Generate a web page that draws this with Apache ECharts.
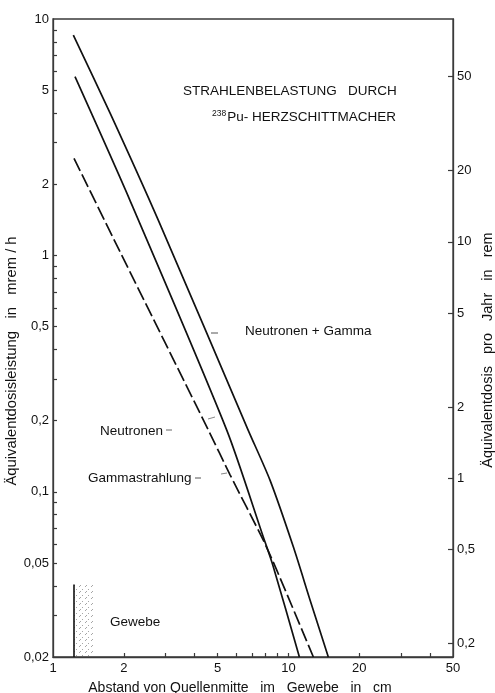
<!DOCTYPE html>
<html>
<head>
<meta charset="utf-8">
<script src="https://cdn.jsdelivr.net/npm/echarts@6/dist/echarts.min.js"></script>
<style>
  html, body { margin: 0; padding: 0; background: #fff; }
  #chart { width: 495px; height: 693px; }
</style>
</head>
<body>
<div id="chart"></div>
<script>
// Distance from source centre (cm) and equivalent dose rate (mrem/h)
const distTotal   = [1.22, 1.75, 2.80, 6.75, 8.35, 10.49, 12.36, 14.77];
const doseTotal   = [8.55, 3.99, 1.41, 0.182, 0.112, 0.0585, 0.0348, 0.02];

const distNeutron = [1.24, 2.12, 5.47, 7.82, 8.63, 11.13];
const doseNeutron = [5.70, 1.714, 0.1823, 0.0644, 0.0481, 0.02];

const distGamma   = [1.228, 1.926, 4.57, 5.65, 7.82, 8.92, 12.76];
const doseGamma   = [2.573, 1.036, 0.1823, 0.118, 0.0624, 0.0466, 0.02];

// Tissue marker (Gewebe)
const tissueX     = [1.228, 1.48];
const tissueY     = [0.02, 0.0405];

// Axis ticks and labels
const xLabels     = [1, 2, 5, 10, 20, 50];
const xTicks      = [2, 3, 4, 5, 6, 7, 8, 9, 10, 20, 30, 40];
const yLabels     = [0.02, 0.05, 0.1, 0.2, 0.5, 1, 2, 5, 10];
const yTicks      = [0.03, 0.04, 0.05, 0.06, 0.07, 0.08, 0.09, 0.1, 0.2, 0.3, 0.4, 0.5,
                     0.6, 0.7, 0.8, 0.9, 1, 2, 3, 4, 5, 6, 7, 8, 9];
const remLabels   = [0.2, 0.5, 1, 2, 5, 10, 20, 50];
const remPerMremH = 8.76;            // 8760 h per year, mrem -> rem
const yMin = 0.02, yMax = 10;

const pair = (xs, ys) => xs.map((x, i) => [x, ys[i]]);
const fmt = v => String(+v.toPrecision(6)).replace('.', ',');

// dotted fill for the tissue region
const hatch = document.createElement('canvas');
hatch.width = 6; hatch.height = 6;
(function () {
  const g = hatch.getContext('2d');
  g.fillStyle = 'rgba(0,0,0,0.35)';
  g.fillRect(1, 4, 1, 1);
  g.fillRect(4, 1, 1, 1);
  g.fillRect(2, 3, 1, 1);
})();

const FONT = 'Liberation Sans';
const AXIS_COLOR = '#3a3a3a';
const LINE_COLOR = '#111';
const TXT = { fontFamily: FONT, fill: '#111' };
const SMOOTH = 0.25;

const chart = echarts.init(document.getElementById('chart'), null, { renderer: 'canvas' });

const option = {
  backgroundColor: '#fff',
  animation: false,
  textStyle: { fontFamily: FONT, color: '#111' },
  grid: {
    left: 53, right: 42, top: 19, bottom: 36,
    outerBoundsMode: 'none', containLabel: false,
    show: true, borderColor: AXIS_COLOR, borderWidth: 1.3, backgroundColor: 'transparent'
  },
  xAxis: {
    type: 'log', logBase: 10, min: 1, max: 50,
    axisLine: { show: true, lineStyle: { color: AXIS_COLOR, width: 1.3 } },
    axisTick: { show: true, inside: true, length: 4, customValues: xTicks,
                lineStyle: { color: AXIS_COLOR, width: 1.2 } },
    axisLabel: { customValues: xLabels, formatter: fmt, fontSize: 13, color: '#111',
                 margin: 5, fontFamily: FONT },
    splitLine: { show: false }, minorTick: { show: false }
  },
  yAxis: [
    {
      type: 'log', logBase: 10, min: yMin, max: yMax,
      axisLine: { show: true, lineStyle: { color: AXIS_COLOR, width: 1.3 } },
      axisTick: { show: true, inside: true, length: 4, customValues: yTicks,
                  lineStyle: { color: AXIS_COLOR, width: 1.2 } },
      axisLabel: { customValues: yLabels, formatter: fmt, fontSize: 13, color: '#111',
                   margin: 4, fontFamily: FONT },
      splitLine: { show: false }
    },
    {
      type: 'log', logBase: 10, position: 'right',
      min: yMin * remPerMremH, max: yMax * remPerMremH,
      axisLine: { show: true, lineStyle: { color: AXIS_COLOR, width: 1.3 } },
      axisTick: { show: true, inside: true, length: 5, customValues: remLabels,
                  lineStyle: { color: AXIS_COLOR, width: 1.2 } },
      axisLabel: { customValues: remLabels, formatter: fmt, fontSize: 13, color: '#111',
                   margin: 4, fontFamily: FONT },
      splitLine: { show: false }
    }
  ],
  series: [
    {
      name: 'Neutronen + Gamma', type: 'line', data: pair(distTotal, doseTotal),
      symbol: 'none', smooth: SMOOTH, lineStyle: { color: LINE_COLOR, width: 1.7 }
    },
    {
      name: 'Neutronen', type: 'line', data: pair(distNeutron, doseNeutron),
      symbol: 'none', smooth: SMOOTH, lineStyle: { color: LINE_COLOR, width: 1.7 }
    },
    {
      name: 'Gammastrahlung', type: 'line', data: pair(distGamma, doseGamma),
      symbol: 'none', smooth: SMOOTH, lineStyle: { color: LINE_COLOR, width: 1.7, type: [14, 4] }
    },
    {
      name: 'Gewebe', type: 'line',
      data: [[tissueX[0], tissueY[0]], [tissueX[0], tissueY[1]]],
      symbol: 'none',
      lineStyle: { color: LINE_COLOR, width: 1.6 },
      markArea: {
        silent: true,
        itemStyle: { color: { image: hatch, repeat: 'repeat' } },
        data: [[{ coord: [tissueX[0], tissueY[0]] }, { coord: [tissueX[1], tissueY[1]] }]]
      }
    }
  ],
  graphic: [
    // axis titles
    { type: 'text', x: 12, y: 361, rotation: Math.PI / 2,
      style: Object.assign({ text: 'Äquivalentdosisleistung   in   mrem / h', fontSize: 14.8,
                             align: 'center', verticalAlign: 'middle' }, TXT) },
    { type: 'text', x: 488, y: 350, rotation: Math.PI / 2,
      style: Object.assign({ text: 'Äquivalentdosis   pro   Jahr   in   rem', fontSize: 14.5,
                             align: 'center', verticalAlign: 'middle' }, TXT) },
    { type: 'text', x: 240, y: 688,
      style: Object.assign({ text: 'Abstand von Quellenmitte   im   Gewebe   in   cm', fontSize: 14,
                             align: 'center', verticalAlign: 'middle' }, TXT) },
    // heading
    { type: 'text', x: 183, y: 91,
      style: Object.assign({ text: 'STRAHLENBELASTUNG   DURCH', fontSize: 13.5,
                             verticalAlign: 'middle' }, TXT) },
    { type: 'text', x: 212, y: 109,
      style: Object.assign({
        text: '{s|238}{m|Pu- HERZSCHITTMACHER}',
        rich: {
          s: { fontSize: 8.5, fontFamily: FONT, fill: '#111', verticalAlign: 'top', padding: [0, 1, 8, 0] },
          m: { fontSize: 13.5, fontFamily: FONT, fill: '#111' }
        }
      }, TXT) },
    // curve labels with leaders
    { type: 'text', x: 245, y: 331,
      style: Object.assign({ text: 'Neutronen + Gamma', fontSize: 13.5, verticalAlign: 'middle' }, TXT) },
    { type: 'line', shape: { x1: 211, y1: 333, x2: 218, y2: 333 },
      style: { stroke: '#555', lineWidth: 1 } },
    { type: 'text', x: 100, y: 431,
      style: Object.assign({ text: 'Neutronen', fontSize: 13.5, verticalAlign: 'middle' }, TXT) },
    { type: 'line', shape: { x1: 166, y1: 430, x2: 172, y2: 430 },
      style: { stroke: '#666', lineWidth: 1 } },
    { type: 'line', shape: { x1: 208, y1: 419, x2: 215, y2: 417 },
      style: { stroke: '#888', lineWidth: 1 } },
    { type: 'text', x: 88, y: 478,
      style: Object.assign({ text: 'Gammastrahlung', fontSize: 13.5, verticalAlign: 'middle' }, TXT) },
    { type: 'line', shape: { x1: 195, y1: 478, x2: 201, y2: 478 },
      style: { stroke: '#555', lineWidth: 1 } },
    { type: 'line', shape: { x1: 221, y1: 474, x2: 227, y2: 473 },
      style: { stroke: '#888', lineWidth: 1 } },
    { type: 'text', x: 110, y: 622,
      style: Object.assign({ text: 'Gewebe', fontSize: 13.5, verticalAlign: 'middle' }, TXT) }
  ]
};

chart.setOption(option);
</script>
</body>
</html>
